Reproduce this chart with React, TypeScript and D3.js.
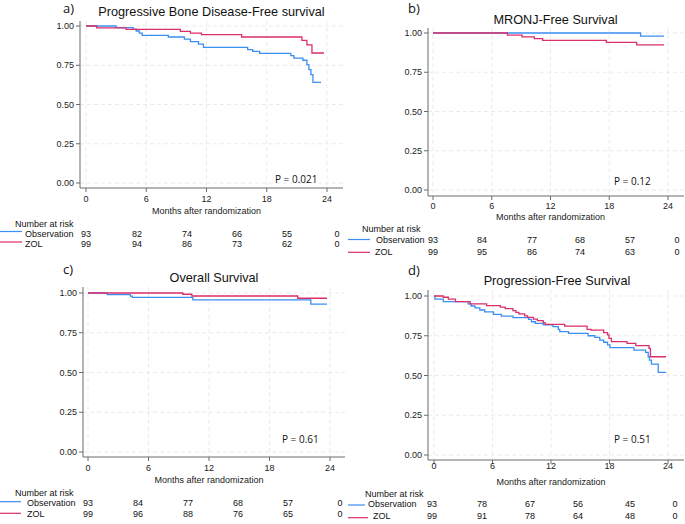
import React from 'react';
import * as d3 from 'd3';

// ---- data (months, survival probability) ----
const monthTicks = [0, 6, 12, 18, 24];
const survTicks = [0, 0.25, 0.5, 0.75, 1];

// a) progressive bone disease-free survival
const pbdObsT = [0, 3.0, 4.7, 5.0, 5.3, 5.6, 8.2, 9.8, 10.4, 11.2, 11.7, 16.1, 16.6, 17.3, 20.4, 20.7, 21.6, 22.0, 22.2, 22.4, 22.6, 23.4];
const pbdObsS = [1, 0.99, 0.98, 0.968, 0.955, 0.94, 0.93, 0.917, 0.9, 0.885, 0.864, 0.849, 0.838, 0.826, 0.811, 0.796, 0.782, 0.754, 0.722, 0.69, 0.641, 0.641];
const pbdZolT = [0, 1.06, 4.0, 9.4, 10.4, 11.5, 15.5, 21.5, 22.0, 22.5, 23.7];
const pbdZolS = [1, 0.988, 0.979, 0.966, 0.955, 0.945, 0.93, 0.909, 0.88, 0.828, 0.828];

// b) MRONJ-free survival
const mronjObsT = [0, 21.2, 23.6];
const mronjObsS = [1, 0.98, 0.98];
const mronjZolT = [0, 7.6, 9.1, 10.35, 11.2, 17.7, 20.8, 23.6];
const mronjZolS = [1, 0.987, 0.975, 0.964, 0.953, 0.94, 0.925, 0.925];

// c) overall survival
const osObsT = [0, 1.9, 4.2, 4.4, 10.4, 22.1, 23.7];
const osObsS = [1, 0.99, 0.98, 0.973, 0.957, 0.93, 0.93];
const osZolT = [0, 9.4, 10.3, 20.8, 23.7];
const osZolS = [1, 0.992, 0.981, 0.967, 0.967];

// d) progression-free survival
const pfsObsT = [0, 0.1, 0.95, 3.5, 3.8, 4.2, 4.7, 5.2, 6.1, 6.9, 8.1, 9.7, 10.0, 10.4, 11.2, 12.2, 12.75, 12.9, 13.8, 15.8, 16.5, 17.0, 17.4, 17.8, 18.05, 20.5, 21.7, 21.97, 22.1, 22.3, 23.0, 23.8];
const pfsObsS = [1, 0.98, 0.964, 0.95, 0.937, 0.925, 0.912, 0.9, 0.885, 0.874, 0.864, 0.853, 0.838, 0.828, 0.818, 0.807, 0.79, 0.776, 0.765, 0.75, 0.74, 0.723, 0.709, 0.692, 0.675, 0.66, 0.646, 0.618, 0.597, 0.572, 0.52, 0.52];
const pfsZolT = [0, 0.95, 1.47, 2.2, 3.7, 5.4, 6.8, 7.3, 8.1, 8.4, 8.7, 9.3, 9.6, 10.2, 10.6, 11.2, 11.4, 13.4, 15.7, 16.1, 17.4, 17.8, 17.95, 18.2, 19.8, 20.7, 22.05, 22.2, 23.8];
const pfsZolS = [1, 0.992, 0.98, 0.964, 0.95, 0.94, 0.93, 0.92, 0.908, 0.897, 0.887, 0.875, 0.865, 0.855, 0.845, 0.832, 0.822, 0.81, 0.79, 0.785, 0.77, 0.755, 0.734, 0.713, 0.702, 0.688, 0.671, 0.618, 0.618];

// numbers at risk at 0, 6, 12, 18, 24 and end
const pbdRiskObs = [93, 82, 74, 66, 55, 0];
const pbdRiskZol = [99, 94, 86, 73, 62, 0];
const mronjRiskObs = [93, 84, 77, 68, 57, 0];
const mronjRiskZol = [99, 95, 86, 74, 63, 0];
const osRiskObs = [93, 84, 77, 68, 57, 0];
const osRiskZol = [99, 96, 88, 76, 65, 0];
const pfsRiskObs = [93, 78, 67, 56, 45, 0];
const pfsRiskZol = [99, 91, 78, 64, 48, 0];

const BLUE = '#3b8ef2';
const PINK = '#dc2e6a';
const AXIS = '#6b6b6b';
const GRID = '#e6e6e6';
const SANS = '"Liberation Sans", Arial, sans-serif';
const CAL = '"Open Sans", "Noto Sans", sans-serif';
const FS = 9;

type Layout = {
  label: string; title: string; pval: string;
  x0: number; x24: number; y1: number; y0: number;
  yAxisX: number; xAxisY: number; right: number; top: number;
  tickY: number; monthsY: number; titleX: number; titleY: number;
  labelX: number; labelY: number;
  headY: number; obsY: number; zolY: number; riskCols: number[];
  headX: number; obsTextX: number; zolTextX: number;
  obsLine: [number, number, number]; zolLine: [number, number, number];
  pX: number; pY: number;
};

const Panel = ({ lay, obsT, obsS, zolT, zolS, riskObs, riskZol }: {
  lay: Layout; obsT: number[]; obsS: number[]; zolT: number[]; zolS: number[];
  riskObs: number[]; riskZol: number[];
}) => {
  const x = d3.scaleLinear().domain([0, 24]).range([lay.x0, lay.x24]);
  const y = d3.scaleLinear().domain([0, 1]).range([lay.y0, lay.y1]);
  const step = d3.line<[number, number]>()
    .x(d => x(d[0]))
    .y(d => y(d[1]))
    .curve(d3.curveStepAfter);
  const obsPath = step(obsT.map((t, i) => [t, obsS[i]] as [number, number])) || '';
  const zolPath = step(zolT.map((t, i) => [t, zolS[i]] as [number, number])) || '';

  return (
    <g>
      {/* grid */}
      {survTicks.map(v => (
        <line key={'h' + v} x1={lay.yAxisX} x2={lay.right} y1={y(v)} y2={y(v)}
          stroke={GRID} strokeWidth={0.8} strokeDasharray="4,3" />
      ))}
      {monthTicks.map(m => (
        <line key={'v' + m} x1={x(m)} x2={x(m)} y1={lay.top} y2={lay.xAxisY}
          stroke={GRID} strokeWidth={0.8} strokeDasharray="4,3" />
      ))}
      {/* axes */}
      <line x1={lay.yAxisX} x2={lay.yAxisX} y1={lay.top} y2={lay.xAxisY} stroke={AXIS} strokeWidth={1} />
      <line x1={lay.yAxisX} x2={lay.right} y1={lay.xAxisY} y2={lay.xAxisY} stroke={AXIS} strokeWidth={1} />
      {survTicks.map(v => (
        <g key={'yt' + v}>
          <line x1={lay.yAxisX - 4} x2={lay.yAxisX} y1={y(v)} y2={y(v)} stroke={AXIS} />
          <text x={lay.yAxisX - 6} y={y(v) + 3.2} textAnchor="end" fontSize={FS} fontFamily={SANS} fill="#222">
            {d3.format('.2f')(v)}
          </text>
        </g>
      ))}
      {monthTicks.map(m => (
        <g key={'xt' + m}>
          <line x1={x(m)} x2={x(m)} y1={lay.xAxisY} y2={lay.xAxisY + 4} stroke={AXIS} />
          <text x={x(m)} y={lay.tickY} textAnchor="middle" fontSize={FS} fontFamily={SANS} fill="#222">{m}</text>
        </g>
      ))}
      <text x={(lay.x0 + lay.x24) / 2} y={lay.monthsY} textAnchor="middle" fontSize={FS} fontFamily={SANS} fill="#222">
        Months after randomization
      </text>
      {/* curves */}
      <path d={obsPath} fill="none" stroke={BLUE} strokeWidth={1.3} />
      <path d={zolPath} fill="none" stroke={PINK} strokeWidth={1.3} />
      {/* titles */}
      <text x={lay.titleX} y={lay.titleY} textAnchor="middle" fontSize={12.7} fontFamily={SANS} fill="#111">{lay.title}</text>
      <text x={lay.labelX} y={lay.labelY} fontSize={13} fontFamily={CAL} fill="#111">{lay.label}</text>
      <text x={lay.pX} y={lay.pY} fontSize={10} fontFamily={CAL} fill="#111">{lay.pval}</text>
      {/* risk table */}
      <text x={lay.headX} y={lay.headY} fontSize={FS} fontFamily={SANS} fill="#111">Number at risk</text>
      <line x1={lay.obsLine[0]} x2={lay.obsLine[1]} y1={lay.obsLine[2]} y2={lay.obsLine[2]} stroke={BLUE} strokeWidth={1.2} />
      <line x1={lay.zolLine[0]} x2={lay.zolLine[1]} y1={lay.zolLine[2]} y2={lay.zolLine[2]} stroke={PINK} strokeWidth={1.2} />
      <text x={lay.obsTextX} y={lay.obsY} fontSize={FS} fontFamily={SANS} fill="#111">Observation</text>
      <text x={lay.zolTextX} y={lay.zolY} fontSize={FS} fontFamily={SANS} fill="#111">ZOL</text>
      {riskObs.map((n, i) => (
        <text key={'ro' + i} x={lay.riskCols[i]} y={lay.obsY} textAnchor="middle" fontSize={FS} fontFamily={SANS} fill="#111">{n}</text>
      ))}
      {riskZol.map((n, i) => (
        <text key={'rz' + i} x={lay.riskCols[i]} y={lay.zolY} textAnchor="middle" fontSize={FS} fontFamily={SANS} fill="#111">{n}</text>
      ))}
    </g>
  );
};

const layA: Layout = {
  label: 'a)', title: 'Progressive Bone Disease-Free survival', pval: 'P = 0.021',
  x0: 86, x24: 327, y1: 26, y0: 183, yAxisX: 80, xAxisY: 188, right: 343, top: 21,
  tickY: 202, monthsY: 213.5, titleX: 211.5, titleY: 16, labelX: 63, labelY: 13,
  headY: 226.5, obsY: 236.5, zolY: 247, riskCols: [86, 137, 187, 237, 287, 337],
  headX: 15, obsTextX: 25, zolTextX: 25, obsLine: [0, 22, 231.5], zolLine: [0, 22, 242],
  pX: 275, pY: 183,
};
const layB: Layout = {
  label: 'b)', title: 'MRONJ-Free Survival', pval: 'P = 0.12',
  x0: 433, x24: 668, y1: 33, y0: 190, yAxisX: 428, xAxisY: 196, right: 684, top: 28,
  tickY: 208.5, monthsY: 220, titleX: 555.5, titleY: 23.5, labelX: 408, labelY: 13,
  headY: 232, obsY: 243.3, zolY: 255, riskCols: [433, 482, 532, 580, 630, 677],
  headX: 362, obsTextX: 376, zolTextX: 375, obsLine: [348, 370, 239.5], zolLine: [348, 370, 252.3],
  pX: 614, pY: 185,
};
const layC: Layout = {
  label: 'c)', title: 'Overall Survival', pval: 'P = 0.61',
  x0: 88, x24: 330, y1: 293, y0: 452, yAxisX: 83, xAxisY: 457, right: 345, top: 287,
  tickY: 470.5, monthsY: 483, titleX: 214, titleY: 281.5, labelX: 63, labelY: 274,
  headY: 495.7, obsY: 505.7, zolY: 516.5, riskCols: [88, 138, 188, 238, 288, 340],
  headX: 15, obsTextX: 27, zolTextX: 27, obsLine: [0, 21, 501.7], zolLine: [0, 21, 513.3],
  pX: 282, pY: 442.7,
};
const layD: Layout = {
  label: 'd)', title: 'Progression-Free Survival', pval: 'P = 0.51',
  x0: 434, x24: 668, y1: 296, y0: 455, yAxisX: 428, xAxisY: 460, right: 684, top: 290,
  tickY: 468.5, monthsY: 485, titleX: 557, titleY: 284.7, labelX: 408, labelY: 274.5,
  headY: 496.5, obsY: 507.3, zolY: 519, riskCols: [432, 482, 530, 578, 630, 675],
  headX: 365, obsTextX: 368, zolTextX: 373, obsLine: [348, 365, 505], zolLine: [348, 368, 517.7],
  pX: 614, pY: 443,
};

export default function App() {
  return (
    <svg width={685} height={524} viewBox="0 0 685 524"
      style={{ position: 'absolute', left: 0, top: 0, background: '#fff' }}>
      <rect width={685} height={524} fill="#fff" />
      <Panel lay={layA} obsT={pbdObsT} obsS={pbdObsS} zolT={pbdZolT} zolS={pbdZolS} riskObs={pbdRiskObs} riskZol={pbdRiskZol} />
      <Panel lay={layB} obsT={mronjObsT} obsS={mronjObsS} zolT={mronjZolT} zolS={mronjZolS} riskObs={mronjRiskObs} riskZol={mronjRiskZol} />
      <Panel lay={layC} obsT={osObsT} obsS={osObsS} zolT={osZolT} zolS={osZolS} riskObs={osRiskObs} riskZol={osRiskZol} />
      <Panel lay={layD} obsT={pfsObsT} obsS={pfsObsS} zolT={pfsZolT} zolS={pfsZolS} riskObs={pfsRiskObs} riskZol={pfsRiskZol} />
    </svg>
  );
}
